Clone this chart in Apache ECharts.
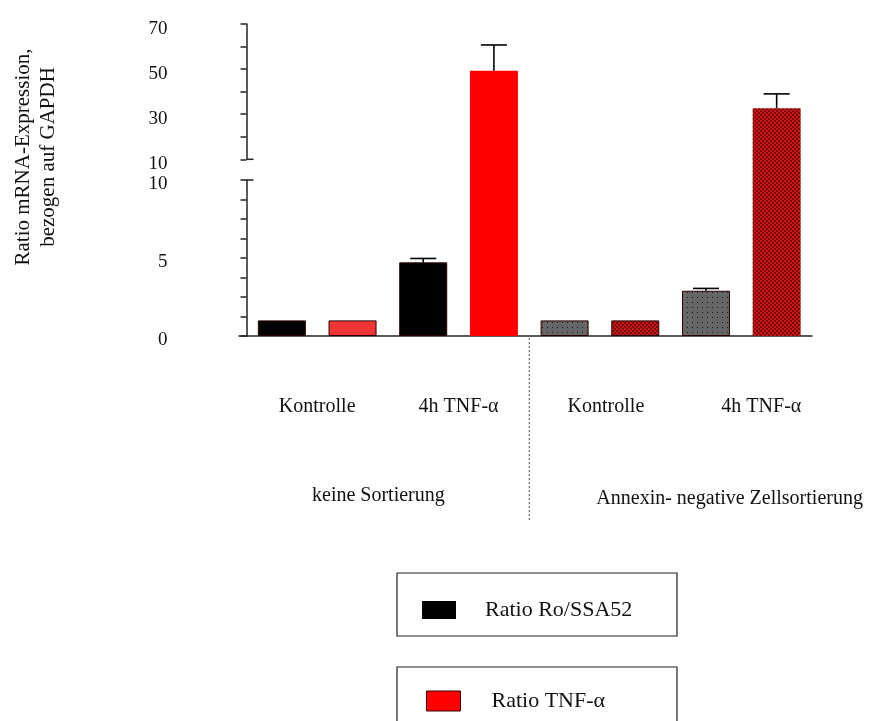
<!DOCTYPE html>
<html><head><meta charset="utf-8">
<script src="https://cdn.jsdelivr.net/npm/echarts@6/dist/echarts.min.js"></script>
<style>html,body{margin:0;padding:0;background:#fff}#c{width:896px;height:721px}</style>
</head><body><div id="c"></div>
<script>
// ---- data ----
const groupLabels = ['keine Sortierung', 'Annexin- negative Zellsortierung'];
const conditionLabels = ['Kontrolle', '4h TNF-α', 'Kontrolle', '4h TNF-α'];
const seriesNames = ['Ratio Ro/SSA52', 'Ratio TNF-α'];
const roValues = [1.0, 4.72, 1.0, 2.9];
const roErrors = [0, 0.25, 0, 0.15];
const tnfValues = [1.0, 49.3, 1.0, 32.6];
const tnfErrors = [0, 11.4, 0, 6.4];
const lowerTickLabels = [0, 5, 10];
const upperTickLabels = [10, 30, 50, 70];
const breakValue = 10;
const upperMax = 70;

// ---- styles ----
const FONT = "'Liberation Serif', 'Times New Roman', serif";
function patternCanvas(w, h, draw) {
  const c = document.createElement('canvas'); c.width = w; c.height = h;
  draw(c.getContext('2d')); return c;
}
const checker = patternCanvas(4, 4, g => {
  g.fillStyle = '#7c0a0a'; g.fillRect(0, 0, 4, 4);
  g.fillStyle = '#c91818'; g.fillRect(0, 0, 2, 2); g.fillRect(2, 2, 2, 2);
});
const dots = patternCanvas(5, 5, g => {
  g.fillStyle = '#666666'; g.fillRect(0, 0, 5, 5);
  g.fillStyle = '#1c1c1c'; g.fillRect(2, 2, 1, 1);
});
const roColors = ['#000000', '#000000', { image: dots, repeat: 'repeat' }, { image: dots, repeat: 'repeat' }];
const tnfColors = ['#ef3535', '#ff0000', { image: checker, repeat: 'repeat' }, { image: checker, repeat: 'repeat' }];

// ---- categories for bar slots ----
const barCats = [];
conditionLabels.forEach((c, j) => seriesNames.forEach(s => barCats.push(groupLabels[Math.floor(j / 2)] + ' / ' + c + ' / ' + s)));

function slotData(vals, colors, s, pick) {
  const arr = barCats.map(() => '-');
  vals.forEach((v, j) => {
    const r = pick(v);
    if (r !== null) arr[2 * j + s] = {
      value: r,
      itemStyle: { color: colors[j], borderColor: '#2a0000', borderWidth: v > breakValue ? 0 : 1 }
    };
  });
  return arr;
}
const pickLower = v => Math.min(v, breakValue);
const pickUpper = v => v > breakValue ? v : null;
const pickGap = v => v > breakValue ? 1 : null;

function barSeries(name, vals, colors, s, xi, yi, pick, baseColor) {
  return {
    type: 'bar', name, xAxisIndex: xi, yAxisIndex: yi, barWidth: 48, barGap: '-100%',
    itemStyle: { color: baseColor }, data: slotData(vals, colors, s, pick), animation: false
  };
}
function errSeries(vals, errs, s, xi, yi, cond) {
  const data = [];
  vals.forEach((v, j) => { if (errs[j] > 0 && cond(v)) data.push([2 * j + s, v, errs[j]]); });
  return {
    type: 'custom', xAxisIndex: xi, yAxisIndex: yi, z: 5, animation: false, silent: true,
    data,
    renderItem: (params, api) => {
      const x = api.value(0), v = api.value(1), e = api.value(2);
      const p0 = api.coord([x, v]), p1 = api.coord([x, v + e]);
      const half = 13;
      return { type: 'group', children: [
        { type: 'line', shape: { x1: p0[0], y1: p0[1], x2: p1[0], y2: p1[1] }, style: { stroke: '#000', lineWidth: 1.6 } },
        { type: 'line', shape: { x1: p1[0] - half, y1: p1[1], x2: p1[0] + half, y2: p1[1] }, style: { stroke: '#000', lineWidth: 1.6 } }
      ] };
    }
  };
}

const axisLineStyle = { color: '#222', width: 1.5 };
const gridLeft = 246.5, gridRight = 84;

const option = {
  backgroundColor: '#fff',
  animation: false,
  grid: [
    { left: gridLeft, right: gridRight, top: 180, height: 156 },
    { left: gridLeft, right: gridRight, top: 24, height: 135.3 },
    { left: gridLeft, right: gridRight, top: 158.6, height: 22 }
  ],
  xAxis: [
    { gridIndex: 0, type: 'category', position: 'bottom', data: barCats, axisLine: { lineStyle: axisLineStyle },
      axisTick: { alignWithLabel: true, length: 6, lineStyle: axisLineStyle }, axisLabel: { show: false } },
    { gridIndex: 0, type: 'category', position: 'bottom', axisLine: { show: false }, axisTick: { show: false },
      data: conditionLabels.map((c, j) => ({ value: c, textStyle: { padding: [0, 0, 0, [0, 0, 12, 40][j]] } })),
      axisLabel: { interval: 0, margin: 61, fontFamily: FONT, fontSize: 20, color: '#111' } },
    { gridIndex: 0, type: 'category', position: 'bottom', axisLine: { show: false }, axisTick: { show: false },
      data: groupLabels.map((g, j) => ({ value: g, textStyle: { padding: j === 0 ? [0, 19, 0, 0] : [3, 0, 0, 118] } })),
      axisLabel: { interval: 0, margin: 150, fontFamily: FONT, fontSize: 20, color: '#111' } },
    { gridIndex: 1, type: 'category', data: barCats, show: false },
    { gridIndex: 2, type: 'category', data: barCats, show: false }
  ],
  yAxis: [
    { gridIndex: 0, type: 'value', min: 0, max: breakValue, interval: 1.25, splitLine: { show: false },
      axisLine: { show: true, lineStyle: axisLineStyle }, axisTick: { show: true, length: 6, lineStyle: axisLineStyle },
      axisLabel: { margin: 79, verticalAlign: 'top', lineHeight: 8, fontFamily: FONT, fontSize: 19, color: '#111',
        formatter: v => lowerTickLabels.indexOf(Math.round(v * 100) / 100) >= 0 ? String(Math.round(v)) : '' } },
    { gridIndex: 1, type: 'value', min: breakValue, max: upperMax, interval: 10, splitLine: { show: false },
      axisLine: { show: true, lineStyle: axisLineStyle }, axisTick: { show: true, length: 6, lineStyle: axisLineStyle },
      axisLabel: { margin: 79, verticalAlign: 'top', lineHeight: 10, fontFamily: FONT, fontSize: 19, color: '#111',
        formatter: v => upperTickLabels.indexOf(v) >= 0 ? String(v) : '' } },
    { gridIndex: 2, type: 'value', min: 0, max: 1, show: false, splitLine: { show: false } }
  ],
  legend: [
    { data: [seriesNames[0]], left: 417, top: 594, itemWidth: 34, itemHeight: 18, icon: 'rect', selectedMode: false,
      itemStyle: { color: '#000', borderWidth: 0 },
      textStyle: { fontFamily: FONT, fontSize: 22, color: '#111', padding: [0, 0, 0, 24] } },
    { data: [seriesNames[1]], left: 421, top: 685, itemWidth: 34, itemHeight: 20, icon: 'rect', selectedMode: false,
      itemStyle: { color: '#ff0000', borderColor: '#3a0000', borderWidth: 1 },
      textStyle: { fontFamily: FONT, fontSize: 22, color: '#111', padding: [0, 0, 0, 26] } }
  ],
  graphic: [
    { type: 'rect', shape: { x: 397, y: 573, width: 280, height: 63 }, style: { fill: 'none', stroke: '#222', lineWidth: 1.2 }, z: -1 },
    { type: 'rect', shape: { x: 397, y: 667, width: 280, height: 70 }, style: { fill: 'none', stroke: '#222', lineWidth: 1.2 }, z: -1 },
    { type: 'text', x: 36, y: 157, rotation: Math.PI / 2,
      style: { text: 'Ratio mRNA-Expression,\nbezogen auf GAPDH', fontFamily: FONT, fontSize: 21, lineHeight: 25,
        fill: '#111', align: 'center', verticalAlign: 'middle' } }
  ],
  series: [
    barSeries(seriesNames[0], roValues, roColors, 0, 0, 0, pickLower, '#000'),
    barSeries(seriesNames[1], tnfValues, tnfColors, 1, 0, 0, pickLower, '#ff0000'),
    barSeries(seriesNames[0], roValues, roColors, 0, 3, 1, pickUpper, '#000'),
    barSeries(seriesNames[1], tnfValues, tnfColors, 1, 3, 1, pickUpper, '#ff0000'),
    barSeries(seriesNames[0], roValues, roColors, 0, 4, 2, pickGap, '#000'),
    barSeries(seriesNames[1], tnfValues, tnfColors, 1, 4, 2, pickGap, '#ff0000'),
    errSeries(roValues, roErrors, 0, 0, 0, v => v <= breakValue),
    errSeries(tnfValues, tnfErrors, 1, 0, 0, v => v <= breakValue),
    errSeries(roValues, roErrors, 0, 3, 1, v => v > breakValue),
    errSeries(tnfValues, tnfErrors, 1, 3, 1, v => v > breakValue)
  ]
};

const chart = echarts.init(document.getElementById('c'), null, { renderer: 'canvas' });
chart.setOption(option);

// separator between groups and break caps, positioned from the axes
const c3 = chart.convertToPixel({ xAxisIndex: 0 }, barCats[3]);
const c4 = chart.convertToPixel({ xAxisIndex: 0 }, barCats[4]);
const sepX = (c3 + c4) / 2;
const y0 = chart.convertToPixel({ yAxisIndex: 0 }, 0);
const yLowTop = chart.convertToPixel({ yAxisIndex: 0 }, breakValue);
const yUpBottom = chart.convertToPixel({ yAxisIndex: 1 }, breakValue);
const ax = gridLeft;
chart.setOption({
  graphic: option.graphic.concat([
    { type: 'line', shape: { x1: sepX, y1: y0 + 2, x2: sepX, y2: 522 }, style: { stroke: '#555', lineWidth: 1, lineDash: [2, 2] } },
    { type: 'line', shape: { x1: ax, y1: yLowTop, x2: ax + 7, y2: yLowTop }, style: { stroke: '#222', lineWidth: 1.5 } },
    { type: 'line', shape: { x1: ax, y1: yUpBottom, x2: ax + 7, y2: yUpBottom }, style: { stroke: '#222', lineWidth: 1.5 } },
    { type: 'line', shape: { x1: ax - 8, y1: y0, x2: ax, y2: y0 }, style: { stroke: '#222', lineWidth: 1.5 } }
  ])
});
</script>
</body></html>
